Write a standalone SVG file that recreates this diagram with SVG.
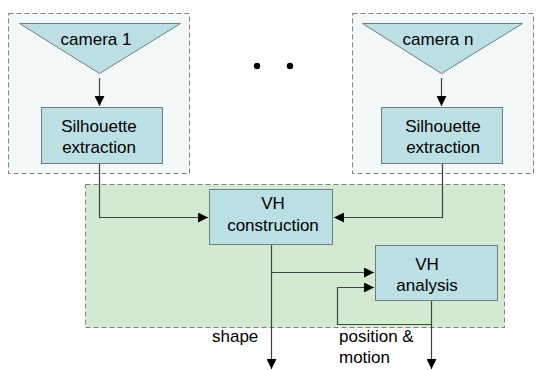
<svg xmlns="http://www.w3.org/2000/svg" width="537" height="370" viewBox="0 0 537 370">
<style>
.grp{fill:#f3f8f8;stroke:#7f7f7f;stroke-width:1;stroke-dasharray:5,3}
.vh{fill:#d3e9d1;stroke:#7f7f7f;stroke-width:1;stroke-dasharray:5,3}
.box{fill:#bbdfe3;stroke:#6f7f80;stroke-width:1}
.t{font-family:"Liberation Sans",Arial,sans-serif;font-size:17px;fill:#000;text-anchor:middle}
.l{font-family:"Liberation Sans",Arial,sans-serif;font-size:17px;fill:#000}
.c{fill:none;stroke:#404040;stroke-width:1.2}
</style>
<defs>
<marker id="ah" viewBox="0 0 10 10" refX="10" refY="5" markerWidth="10" markerHeight="10" markerUnits="userSpaceOnUse" orient="auto">
<path d="M0,0 L10,5 L0,10 z" fill="#000"/>
</marker>
</defs>
<g id="group1"><rect class="grp" x="8.5" y="13.5" width="181" height="160"/></g>
<g id="groupn"><rect class="grp" x="352.5" y="13.5" width="181" height="160"/></g>
<g id="vhgroup"><rect class="vh" x="85.5" y="184.5" width="419" height="143"/></g>
<g id="camera1"><polygon class="box" points="19.5,23.5 180.5,23.5 99.5,73.5"/><text class="t" x="96" y="45">camera 1</text></g>
<g id="cameran"><polygon class="box" points="362.5,23.5 522.5,23.5 441.5,73.5"/><text class="t" x="438" y="45">camera n</text></g>
<g id="sil1"><rect class="box" x="41.5" y="107.5" width="121" height="56"/><text class="t" x="99" y="132">Silhouette</text><text class="t" x="99" y="152.5">extraction</text></g>
<g id="siln"><rect class="box" x="381.5" y="107.5" width="121" height="56"/><text class="t" x="443" y="132">Silhouette</text><text class="t" x="443" y="152.5">extraction</text></g>
<g id="vhc"><rect class="box" x="209.5" y="189.5" width="123" height="55"/><text class="t" x="273" y="209">VH</text><text class="t" x="273" y="230.5">construction</text></g>
<g id="vha"><rect class="box" x="375.5" y="245.5" width="122" height="55"/><text class="t" x="427" y="270">VH</text><text class="t" x="427" y="291">analysis</text></g>
<g id="dots"><circle cx="257" cy="66" r="3.2" fill="#000"/><circle cx="290" cy="66" r="3.2" fill="#000"/></g>
<g id="connectors">
<path class="c" d="M99.5,78 V106" marker-end="url(#ah)"/>
<path class="c" d="M441.5,78 V106" marker-end="url(#ah)"/>
<path class="c" d="M99.5,164 V217.5 H208" marker-end="url(#ah)"/>
<path class="c" d="M442.5,164 V217.5 H334" marker-end="url(#ah)"/>
<path class="c" d="M271.5,245 V369" marker-end="url(#ah)"/>
<path class="c" d="M271.5,272.5 H374" marker-end="url(#ah)"/>
<path class="c" d="M431.5,301 V369" marker-end="url(#ah)"/>
<path class="c" d="M431.5,324.5 H337.5 V287.5 H374" marker-end="url(#ah)"/>
</g>
<g id="labels">
<text class="l" x="212" y="342">shape</text>
<text class="l" x="339" y="342">position &amp;</text>
<text class="l" x="339" y="363">motion</text>
</g>
</svg>
